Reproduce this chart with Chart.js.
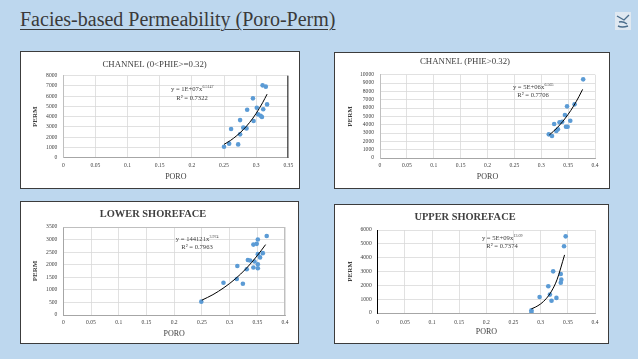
<!DOCTYPE html>
<html><head><meta charset="utf-8">
<script src="https://cdn.jsdelivr.net/npm/chart.js@4/dist/chart.umd.min.js"></script>
<style>
html,body{margin:0;padding:0;}
body{width:638px;height:359px;background:#BDD7EE;position:relative;overflow:hidden;font-family:"Liberation Serif",serif;}
#title{position:absolute;left:20px;top:8px;font-size:20px;color:#3a3a3a;text-decoration:underline;text-decoration-thickness:1px;text-underline-offset:3px;white-space:nowrap;}
#logo{position:absolute;left:615px;top:12px;width:16px;height:18px;}
.panel{position:absolute;background:#fff;border:1px solid #3c3c3c;box-sizing:border-box;}
.panel canvas{position:absolute;left:0;top:0;}
</style></head><body>
<div id="title">Facies-based Permeability (Poro-Perm)</div>
<svg id="logo" viewBox="0 0 16 18"><rect x="0" y="0" width="16" height="18" fill="#dfe8f1"/><path d="M2 4 L9 8 L14 3 M4 10 Q8 9 12 12 M3 14 Q7 16 13 14" stroke="#4a6d8c" stroke-width="1.4" fill="none"/></svg>
<div class="panel" id="p1"><canvas id="c1"></canvas></div>
<div class="panel" id="p2"><canvas id="c2"></canvas></div>
<div class="panel" id="p3"><canvas id="c3"></canvas></div>
<div class="panel" id="p4"><canvas id="c4"></canvas></div>
<script>
// ---------- DATA ----------
// Panel 1: CHANNEL (0<PHIE>=0.32)
const ch1Title = 'CHANNEL (0<PHIE>=0.32)';
const ch1Poro = [0.250,0.258,0.261,0.272,0.275,0.275,0.280,0.285,0.286,0.295,0.296,0.301,0.303,0.307,0.309,0.310,0.311,0.315,0.317];
const ch1Perm = [1070,1370,2800,1300,2280,3670,2930,2860,4680,5790,3580,4880,4230,4100,3970,7060,4720,6930,5200];
const ch1TrendPoro = [0.250,0.260,0.270,0.280,0.290,0.300,0.310,0.317];
const ch1TrendPerm = [1300,1680,2160,2740,3450,4320,5360,6200];
const ch1XTicks = [0,0.05,0.1,0.15,0.2,0.25,0.3,0.35];
const ch1XLabels = ['0','0.05','0.1','0.15','0.2','0.25','0.3','0.35'];
const ch1YTicks = [0,1000,2000,3000,4000,5000,6000,7000,8000];
const ch1YLabels = ['0','1000','2000','3000','4000','5000','6000','7000','8000'];
const ch1Eq = ['y = 1E+07x','6.5147'];
const ch1R2 = 'R² = 0.7322';

// Panel 2: CHANNEL (PHIE>0.32)
const ch2Title = 'CHANNEL (PHIE>0.32)';
const ch2Poro = [0.314,0.320,0.324,0.328,0.331,0.334,0.339,0.344,0.346,0.348,0.349,0.354,0.362,0.378];
const ch2Perm = [2840,2640,4080,3240,3440,4280,4360,5160,3760,6200,3760,4480,6440,9440];
const ch2TrendPoro = [0.315,0.330,0.340,0.350,0.360,0.370,0.377];
const ch2TrendPerm = [2760,3660,4390,5240,6220,7360,8240];
const ch2XTicks = [0,0.05,0.1,0.15,0.2,0.25,0.3,0.35,0.4];
const ch2XLabels = ['0','0.05','0.1','0.15','0.2','0.25','0.3','0.35','0.4'];
const ch2YTicks = [0,1000,2000,3000,4000,5000,6000,7000,8000,9000,10000];
const ch2YLabels = ['0','1000','2000','3000','4000','5000','6000','7000','8000','9000','10000'];
const ch2Eq = ['y = 5E+06x','6.565'];
const ch2R2 = 'R² = 0.7706';

// Panel 3: LOWER SHOREFACE
const lsTitle = 'LOWER SHOREFACE';
const lsPoro = [0.249,0.289,0.313,0.314,0.324,0.331,0.333,0.337,0.343,0.343,0.345,0.349,0.351,0.351,0.351,0.351,0.355,0.360,0.367];
const lsPerm = [530,1280,1430,1950,1240,1820,2190,2170,2800,1890,2130,2830,3000,2420,2020,1860,2290,2460,3140];
const lsTrendPoro = [0.250,0.270,0.290,0.310,0.330,0.350,0.365];
const lsTrendPerm = [590,810,1090,1430,1850,2360,2800];
const lsXTicks = [0,0.05,0.1,0.15,0.2,0.25,0.3,0.35,0.4];
const lsXLabels = ['0','0.05','0.1','0.15','0.2','0.25','0.3','0.35','0.4'];
const lsYTicks = [0,500,1000,1500,2000,2500,3000,3500];
const lsYLabels = ['0','500','1000','1500','2000','2500','3000','3500'];
const lsEq = ['y = 144121x','3.974'];
const lsR2 = 'R² = 0.7963';

// Panel 4: UPPER SHOREFACE
const usTitle = 'UPPER SHOREFACE';
const usPoro = [0.283,0.283,0.298,0.314,0.317,0.320,0.323,0.329,0.337,0.338,0.337,0.343,0.346];
const usPerm = [70,190,1160,1930,1330,890,3010,1090,2820,2410,2190,4820,5540];
const usTrendPoro = [0.283,0.290,0.300,0.310,0.320,0.330,0.344];
const usTrendPerm = [300,420,660,1030,1580,2400,4200];
const usXTicks = [0,0.05,0.1,0.15,0.2,0.25,0.3,0.35,0.4];
const usXLabels = ['0','0.05','0.1','0.15','0.2','0.25','0.3','0.35','0.4'];
const usYTicks = [0,1000,2000,3000,4000,5000,6000];
const usYLabels = ['0','1000','2000','3000','4000','5000','6000'];
const usEq = ['y = 5E+09x','13.09'];
const usR2 = 'R² = 0.7374';

const xTitle = 'PORO';
const yTitle = 'PERM';

// ---------- LAYOUT / STYLE ----------
const FONT = '"Liberation Serif", "Times New Roman", serif';
const POINT = '#5B9BD5';
const TEXT = '#404040';

const equationPlugin = {
  id: 'equation',
  afterDatasetsDraw(chart, args, o) {
    const ctx = chart.ctx;
    ctx.save();
    ctx.fillStyle = TEXT;
    ctx.textBaseline = 'middle';
    const f = o.size;
    ctx.font = f + 'px ' + FONT;
    const bw = ctx.measureText(o.eq[0]).width;
    ctx.font = (f * 0.6) + 'px ' + FONT;
    const sw = ctx.measureText(o.eq[1]).width;
    let x0 = o.x - (bw + sw) / 2;
    ctx.textAlign = 'left';
    ctx.font = f + 'px ' + FONT;
    ctx.fillText(o.eq[0], x0, o.y1);
    ctx.font = (f * 0.6) + 'px ' + FONT;
    ctx.fillText(o.eq[1], x0 + bw + 0.3, o.y1 - f * 0.35);
    ctx.font = f + 'px ' + FONT;
    ctx.textAlign = 'center';
    ctx.fillText(o.r2, o.x, o.y2);
    ctx.restore();
  }
};

const framePlugin = {
  id: 'frame',
  afterDatasetsDraw(chart, args, o) {
    const a = chart.chartArea, ctx = chart.ctx;
    ctx.save();
    ctx.lineWidth = 1;
    const seg = (c, x1, y1, x2, y2) => { if (!c) return; ctx.strokeStyle = c; ctx.beginPath(); ctx.moveTo(x1, y1); ctx.lineTo(x2, y2); ctx.stroke(); };
    seg(o.left, a.left + 0.5, a.top, a.left + 0.5, a.bottom);
    seg(o.right, a.right - 0.5, a.top, a.right - 0.5, a.bottom);
    seg(o.top, a.left, a.top + 0.5, a.right, a.top + 0.5);
    ctx.restore();
  }
};

function makeChart(id, L, d) {
  const panel = document.getElementById('p' + id.slice(1));
  const [bx, by, bw, bh] = L.box;
  panel.style.left = bx + 'px'; panel.style.top = by + 'px';
  panel.style.width = bw + 'px'; panel.style.height = bh + 'px';
  const cx = bx + 1, cy = by + 1, W = bw - 2, H = bh - 2;
  const cv = document.getElementById(id);
  cv.width = W; cv.height = H; cv.style.width = W + 'px'; cv.style.height = H + 'px';
  const pl = L.plot[0] - cx, pt = L.plot[1] - cy, pr = L.plot[2] - cx, pb = L.plot[3] - cy;
  const tlh = L.titleSize * 1.2;
  const tPadTop = (L.titleY - cy) - tlh / 2;
  const tPadBot = pt - tlh - tPadTop;
  const tickSize = 5.6;
  const xtlh = 8 * 1.2, ytlh = 7 * 1.2;
  return new Chart(cv, {
    type: 'scatter',
    data: {
      datasets: [
        { data: d.px.map((v, i) => ({ x: v, y: d.py[i] })), backgroundColor: POINT, borderColor: POINT, pointRadius: 2.3, pointHoverRadius: 2.3, pointBorderWidth: 0, order: 2 },
        { type: 'line', data: d.tx.map((v, i) => ({ x: v, y: d.ty[i] })), borderColor: '#000', borderWidth: 1, pointRadius: 0, fill: false, cubicInterpolationMode: 'monotone', order: 1 }
      ]
    },
    options: {
      responsive: false, animation: false, devicePixelRatio: 1,
      layout: { padding: { left: 0, top: 0, bottom: 0, right: W - pr } },
      plugins: {
        legend: { display: false }, tooltip: { enabled: false },
        title: { display: true, text: d.title, color: TEXT, font: { family: FONT, size: L.titleSize, weight: L.titleWeight }, padding: { top: tPadTop, bottom: tPadBot } },
        equation: { x: L.eq[0] - cx, y1: L.eq[1] - cy, y2: L.eq[2] - cy, eq: d.eq, r2: d.r2, size: 6.6 },
        frame: L.frame
      },
      scales: {
        x: {
          type: 'linear', min: d.xt[0], max: d.xt[d.xt.length - 1],
          afterBuildTicks: s => { s.ticks = d.xt.map(v => ({ value: v })); },
          afterFit: s => { s.height = H - pb; },
          ticks: { color: TEXT, font: { family: FONT, size: tickSize }, padding: (L.tickY - L.plot[3]) - tickSize * 0.6, maxRotation: 0, autoSkip: false, callback: (v, i) => d.xl[i] },
          grid: { color: '#D9D9D9', lineWidth: 0.8, drawTicks: false },
          border: { display: true, color: '#A6A6A6', width: 1 },
          title: { display: true, text: xTitle, color: TEXT, font: { family: FONT, size: 8 }, padding: { top: 0, bottom: H - (L.poroY - cy) - xtlh / 2 } }
        },
        y: {
          type: 'linear', min: d.yt[0], max: d.yt[d.yt.length - 1],
          afterBuildTicks: s => { s.ticks = d.yt.map(v => ({ value: v })); },
          afterFit: s => { s.width = pl; },
          ticks: { color: TEXT, font: { family: FONT, size: tickSize }, padding: 6, autoSkip: false, callback: (v, i) => d.yl[i] },
          grid: { color: '#D9D9D9', lineWidth: 0.8, drawTicks: false },
          border: { display: true, color: L.yAxisColor, width: 1 },
          title: { display: true, text: yTitle, color: TEXT, font: { family: FONT, size: 7, weight: 'bold' }, padding: { top: (L.permX - cx) - ytlh / 2, bottom: 0 } }
        }
      }
    },
    plugins: [equationPlugin, framePlugin]
  });
}

makeChart('c1', { box: [20, 51, 280, 138], plot: [63.3, 75.7, 288.3, 157.7], titleY: 65, titleSize: 8.8, titleWeight: 'normal', tickY: 166, poroY: 177, permX: 35, eq: [192, 89, 98], yAxisColor: '#BFBFBF', frame: { right: '#1a1a1a' } },
  { title: ch1Title, px: ch1Poro, py: ch1Perm, tx: ch1TrendPoro, ty: ch1TrendPerm, xt: ch1XTicks, xl: ch1XLabels, yt: ch1YTicks, yl: ch1YLabels, eq: ch1Eq, r2: ch1R2 });
makeChart('c2', { box: [334, 52, 276, 137], plot: [380, 74.7, 595, 158], titleY: 62, titleSize: 8.8, titleWeight: 'normal', tickY: 166, poroY: 177, permX: 350, eq: [533, 87, 95], yAxisColor: '#BFBFBF', frame: {} },
  { title: ch2Title, px: ch2Poro, py: ch2Perm, tx: ch2TrendPoro, ty: ch2TrendPerm, xt: ch2XTicks, xl: ch2XLabels, yt: ch2YTicks, yl: ch2YLabels, eq: ch2Eq, r2: ch2R2 });
makeChart('c3', { box: [20, 201, 279, 143], plot: [63.3, 227, 285, 315], titleY: 214, titleSize: 10.4, titleWeight: 'bold', tickY: 323, poroY: 334, permX: 35, eq: [197, 239, 247], yAxisColor: '#A6A6A6', frame: { top: '#BFBFBF', right: '#BFBFBF' } },
  { title: lsTitle, px: lsPoro, py: lsPerm, tx: lsTrendPoro, ty: lsTrendPerm, xt: lsXTicks, xl: lsXLabels, yt: lsYTicks, yl: lsYLabels, eq: lsEq, r2: lsR2 });
makeChart('c4', { box: [334, 204, 275, 140], plot: [377.7, 230, 595, 313], titleY: 217, titleSize: 10.4, titleWeight: 'bold', tickY: 323, poroY: 332, permX: 350, eq: [502, 238, 246], yAxisColor: '#000000', frame: {} },
  { title: usTitle, px: usPoro, py: usPerm, tx: usTrendPoro, ty: usTrendPerm, xt: usXTicks, xl: usXLabels, yt: usYTicks, yl: usYLabels, eq: usEq, r2: usR2 });
</script>
</body></html>
